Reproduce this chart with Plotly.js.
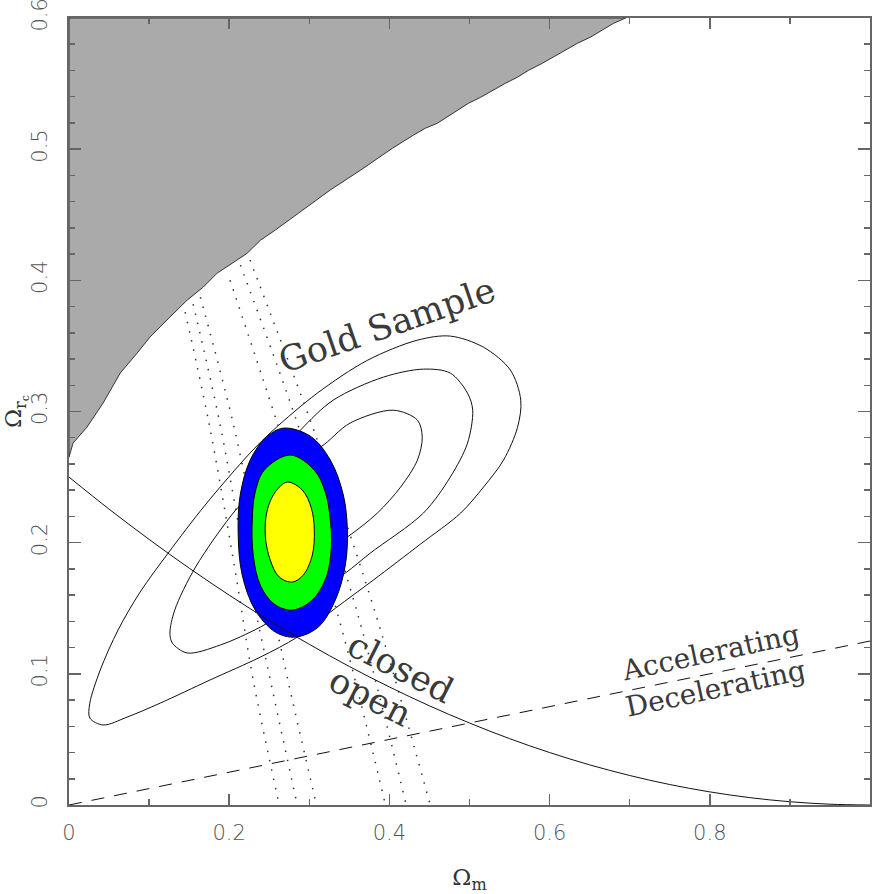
<!DOCTYPE html>
<html>
<head>
<meta charset="utf-8">
<script src="https://cdn.plot.ly/plotly-3.0.1.min.js"></script>
<style>
  body { margin: 0; background: #fff; }
  #plot { width: 872px; height: 894px; }
</style>
</head>
<body>
<div id="plot"></div>
<script>
// axis ticks
var xTicks = [0, 0.2, 0.4, 0.6, 0.8];
var xTickText = ['0', '0.2', '0.4', '0.6', '0.8'];
var xMinor = [0.1, 0.3, 0.5, 0.7, 0.9, 1.0];
var yTicks = [0, 0.1, 0.2, 0.3, 0.4, 0.5, 0.6];
var yTickText = ['0', '0.1', '0.2', '0.3', '0.4', '0.5', '0.6'];
var yMinor = [0.02, 0.04, 0.06, 0.08, 0.12, 0.14, 0.16, 0.18, 0.22, 0.24, 0.26, 0.28,
  0.32, 0.34, 0.36, 0.38, 0.42, 0.44, 0.46, 0.48, 0.52, 0.54, 0.56, 0.58];

// excluded (no big bang) region, boundary
var greyM = [0, 0.695, 0.68, 0.666, 0.651, 0.635, 0.62, 0.605, 0.591, 0.574, 0.56, 0.545, 0.53,
  0.514, 0.499, 0.485, 0.4725, 0.46, 0.445, 0.43, 0.404, 0.364, 0.326, 0.289, 0.2575, 0.239,
  0.2225, 0.204, 0.185, 0.1675, 0.1475, 0.126, 0.101, 0.085, 0.064, 0.0425, 0.0225, 0.005, 0, 0];
var greyR = [0.6, 0.6, 0.596, 0.5907, 0.5854, 0.5808, 0.5755, 0.5701, 0.5655, 0.5602, 0.5549,
  0.5503, 0.545, 0.5396, 0.5351, 0.5297, 0.5244, 0.5198, 0.516, 0.5107, 0.5008, 0.484, 0.4688,
  0.452, 0.4383, 0.4306, 0.4207, 0.4131, 0.4055, 0.3948, 0.3849, 0.372, 0.3567, 0.3445, 0.3293,
  0.3064, 0.2881, 0.2759, 0.2652, 0.6];

// Gold Sample confidence contours (outer, middle, inner)
var outerM = [0.026, 0.0425, 0.0725, 0.114, 0.176, 0.239, 0.285, 0.3325, 0.38, 0.439, 0.489,
  0.5175, 0.5425, 0.56, 0.564, 0.551, 0.5175, 0.476, 0.435, 0.3725, 0.31, 0.255, 0.226, 0.17,
  0.12375, 0.08875, 0.06125, 0.039, 0.026, 0.026];
var outerR = [0.0663, 0.061, 0.067, 0.0777, 0.0953, 0.1128, 0.128, 0.150, 0.1715, 0.199, 0.2226,
  0.2424, 0.263, 0.288, 0.3087, 0.3316, 0.349, 0.3575, 0.3544, 0.339, 0.314, 0.2858, 0.2683,
  0.2287, 0.192, 0.1623, 0.1334, 0.1029, 0.0777, 0.0663];
var middleM = [0.289, 0.33, 0.3925, 0.4425, 0.476, 0.4975, 0.504, 0.4975, 0.476, 0.4425, 0.376,
  0.345, 0.289, 0.239, 0.189, 0.1475, 0.129, 0.126, 0.132, 0.158, 0.208, 0.23, 0.2575, 0.289];
var middleR = [0.2858, 0.3087, 0.3262, 0.3323, 0.3293, 0.314, 0.301, 0.2759, 0.25, 0.2226, 0.192,
  0.1768, 0.154, 0.1357, 0.122, 0.1159, 0.1235, 0.131, 0.1486, 0.1814, 0.2248, 0.2378, 0.263, 0.2858];
var innerM = [0.314, 0.351, 0.405, 0.435, 0.441, 0.435, 0.414, 0.385, 0.3475, 0.301, 0.251,
  0.2325, 0.245, 0.276, 0.314];
var innerR = [0.2729, 0.2912, 0.301, 0.2934, 0.2805, 0.263, 0.2424, 0.2226, 0.2043, 0.1867, 0.183,
  0.2096, 0.24, 0.263, 0.2729];

// dotted constraint bands
var dotM = [
  [0.145, 0.174, 0.205, 0.23, 0.2625],
  [0.155, 0.1875, 0.22, 0.254, 0.285],
  [0.164, 0.204, 0.241, 0.276, 0.309],
  [0.201, 0.26, 0.335, 0.395],
  [0.214, 0.285, 0.36, 0.421],
  [0.226, 0.31, 0.3825, 0.451]
];
var dotR = [
  [0.3758, 0.2934, 0.1875, 0.0953, 0],
  [0.3819, 0.2934, 0.1867, 0.0877, 0],
  [0.3872, 0.2934, 0.1867, 0.0877, 0],
  [0.4001, 0.2912, 0.1463, 0],
  [0.4116, 0.2912, 0.1463, 0],
  [0.4154, 0.2782, 0.1463, 0]
];

// combined filled regions (blue, green, yellow)
var blueM = [0.2675, 0.30125, 0.32625, 0.3425, 0.3475, 0.345, 0.3325, 0.31125, 0.2825, 0.2575,
  0.2325, 0.21625, 0.21125, 0.21375, 0.22625, 0.245, 0.2675];
var blueR = [0.2873, 0.2812, 0.263, 0.2363, 0.2096, 0.1829, 0.1563, 0.1357, 0.128, 0.1319, 0.1486,
  0.1753, 0.2058, 0.2363, 0.263, 0.2797, 0.2873];
var greenM = [0.27625, 0.30625, 0.32, 0.32625, 0.3275, 0.32125, 0.30375, 0.27875, 0.25625, 0.23875,
  0.23, 0.22875, 0.2325, 0.24375, 0.27625];
var greenR = [0.2668, 0.2553, 0.2386, 0.2172, 0.1966, 0.1738, 0.1563, 0.1486, 0.1532, 0.1677,
  0.1905, 0.2172, 0.2386, 0.2553, 0.2668];
var yellowM = [0.2725, 0.29125, 0.3025, 0.30625, 0.30375, 0.2925, 0.27875, 0.2625, 0.25125, 0.245,
  0.2475, 0.2575, 0.2725];
var yellowR = [0.2462, 0.2401, 0.2264, 0.2096, 0.1905, 0.1753, 0.17, 0.1738, 0.1867, 0.2058,
  0.2248, 0.2386, 0.2462];

// flat universe line (closed / open)
var flatM = [0, 0.05, 0.1, 0.15, 0.2, 0.25, 0.3, 0.35, 0.4, 0.45, 0.5, 0.55, 0.6, 0.65, 0.7,
  0.75, 0.8, 0.85, 0.9, 0.95, 1.0];
var flatR = [0.25, 0.2256, 0.2025, 0.1806, 0.16, 0.1406, 0.1225, 0.1056, 0.09, 0.0756, 0.0625,
  0.0506, 0.04, 0.0306, 0.0225, 0.0156, 0.01, 0.0056, 0.0025, 0.0006, 0];

// accelerating / decelerating boundary
var accM = [0, 1];
var accR = [0, 0.125];

var traces = [];

traces.push({
  x: greyM, y: greyR, mode: 'lines', fill: 'toself', fillcolor: '#aaaaaa',
  line: { color: '#333333', width: 1 }, hoverinfo: 'skip'
});

[[outerM, outerR], [middleM, middleR], [innerM, innerR]].forEach(function (c) {
  traces.push({
    x: c[0], y: c[1], mode: 'lines',
    line: { color: '#111111', width: 1, shape: 'spline', smoothing: 0.9 }
  });
});

for (var i = 0; i < dotM.length; i++) {
  traces.push({
    x: dotM[i], y: dotR[i], mode: 'lines',
    line: { color: '#333333', width: 1.5, dash: '1.5px,8px', shape: 'spline' }
  });
}

var fills = [[blueM, blueR, '#0000ff'], [greenM, greenR, '#00ff00'], [yellowM, yellowR, '#ffff00']];
fills.forEach(function (f) {
  traces.push({
    x: f[0], y: f[1], mode: 'lines', fill: 'toself', fillcolor: f[2],
    line: { color: '#000000', width: 1, shape: 'spline', smoothing: 1 }
  });
});

traces.push({
  x: flatM, y: flatR, mode: 'lines',
  line: { color: '#111111', width: 1, shape: 'spline' }
});

traces.push({
  x: accM, y: accR, mode: 'lines',
  line: { color: '#111111', width: 1, dash: '13px,10px' }
});

var labelFont = { family: 'DejaVu Serif', size: 35, color: '#3a3a3a' };
var smallFont = { family: 'DejaVu Serif', size: 28, color: '#3a3a3a' };

var layout = {
  width: 872,
  height: 894,
  margin: { l: 69, r: 2, t: 18, b: 89 },
  paper_bgcolor: '#ffffff',
  plot_bgcolor: '#ffffff',
  showlegend: false,
  xaxis: {
    range: [0, 1],
    tickmode: 'array', tickvals: xTicks, ticktext: xTickText,
    ticks: 'inside', ticklen: 11, tickwidth: 1.5, tickcolor: '#666666',
    minor: { tickmode: 'array', tickvals: xMinor, ticks: 'inside', ticklen: 6, tickcolor: '#666666', tickwidth: 1.5 },
    showline: true, linecolor: '#666666', linewidth: 2, mirror: 'allticks',
    showgrid: false, zeroline: false,
    tickfont: { family: 'DejaVu Sans', size: 21, color: '#555555', weight: 300 },
    ticklabelstandoff: 8,
    title: { text: 'Ω<sub>m</sub>', font: { family: 'DejaVu Serif', size: 23, color: '#333333' }, standoff: 28 }
  },
  yaxis: {
    range: [0, 0.6],
    tickmode: 'array', tickvals: yTicks, ticktext: yTickText,
    tickangle: -90,
    ticklabeloverflow: 'allow',
    ticks: 'inside', ticklen: 12, tickwidth: 1.5, tickcolor: '#666666',
    minor: { tickmode: 'array', tickvals: yMinor, ticks: 'inside', ticklen: 6, tickcolor: '#666666', tickwidth: 1.5 },
    showline: true, linecolor: '#666666', linewidth: 2, mirror: 'allticks',
    showgrid: false, zeroline: false,
    tickfont: { family: 'DejaVu Sans', size: 21, color: '#555555', weight: 300 },
    ticklabelstandoff: 12,
    title: { text: 'Ω<sub>r<sub>c</sub></sub>', font: { family: 'DejaVu Serif', size: 23, color: '#333333' }, standoff: 6 }
  },
  annotations: [
    { x: 0.3975, y: 0.3659, text: 'Gold Sample', textangle: -19, showarrow: false, font: labelFont, xanchor: 'center', yanchor: 'middle' },
    { x: 0.414, y: 0.1044, text: 'closed', textangle: 27, showarrow: false, font: labelFont, xanchor: 'center', yanchor: 'middle' },
    { x: 0.376, y: 0.0823, text: 'open', textangle: 27, showarrow: false, font: labelFont, xanchor: 'center', yanchor: 'middle' },
    { x: 0.801, y: 0.1166, text: 'Accelerating', textangle: -12, showarrow: false, font: smallFont, xanchor: 'center', yanchor: 'middle' },
    { x: 0.8075, y: 0.0892, text: 'Decelerating', textangle: -12, showarrow: false, font: smallFont, xanchor: 'center', yanchor: 'middle' }
  ]
};

Plotly.newPlot('plot', traces, layout, { staticPlot: true });
</script>
</body>
</html>
